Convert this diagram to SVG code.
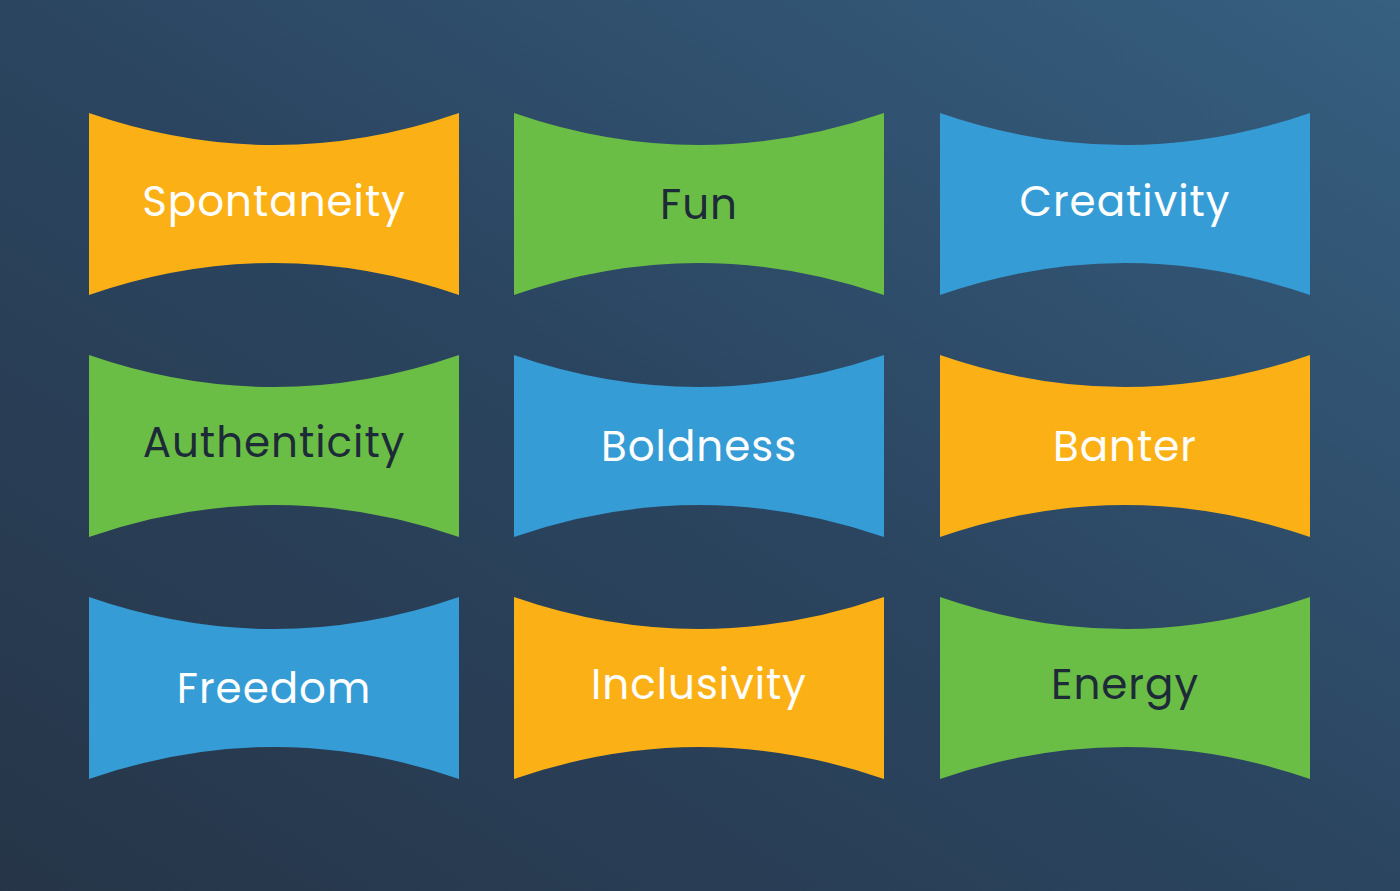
<svg xmlns="http://www.w3.org/2000/svg" width="1400" height="891" viewBox="0 0 1400 891">
<defs>
<linearGradient id="bg" x1="0" y1="1" x2="1" y2="0">
<stop offset="0" stop-color="#263548"/>
<stop offset="0.5" stop-color="#2b4560"/>
<stop offset="1" stop-color="#365f80"/>
</linearGradient>
<path id="ban" d="M0,0 Q185,64 370,0 L370,182 Q185,118 0,182 Z"/>
</defs>
<style>
.o{fill:#FBB116}.g{fill:#6BBE45}.b{fill:#359CD6}
text{font-family:Poppins,"Open Sans","Liberation Sans",sans-serif;font-size:42px;text-anchor:middle;letter-spacing:1px}
.w{fill:#ffffff}.d{fill:#1d2b38}
</style>
<rect width="1400" height="891" fill="url(#bg)"/>
<g id="n1"><use href="#ban" x="89" y="113" class="o"/><text x="274" y="216" class="w">Spontaneity</text></g>
<g id="n2"><use href="#ban" x="514" y="113" class="g"/><text x="699" y="219" class="d">Fun</text></g>
<g id="n3"><use href="#ban" x="940" y="113" class="b"/><text x="1125" y="216" class="w">Creativity</text></g>
<g id="n4"><use href="#ban" x="89" y="355" class="g"/><text x="274" y="457" class="d">Authenticity</text></g>
<g id="n5"><use href="#ban" x="514" y="355" class="b"/><text x="699" y="461" class="w">Boldness</text></g>
<g id="n6"><use href="#ban" x="940" y="355" class="o"/><text x="1125" y="461" class="w">Banter</text></g>
<g id="n7"><use href="#ban" x="89" y="597" class="b"/><text x="274" y="703" class="w">Freedom</text></g>
<g id="n8"><use href="#ban" x="514" y="597" class="o"/><text x="699" y="699" class="w">Inclusivity</text></g>
<g id="n9"><use href="#ban" x="940" y="597" class="g"/><text x="1125" y="699" class="d">Energy</text></g>
<g id="connectors"/>
</svg>
